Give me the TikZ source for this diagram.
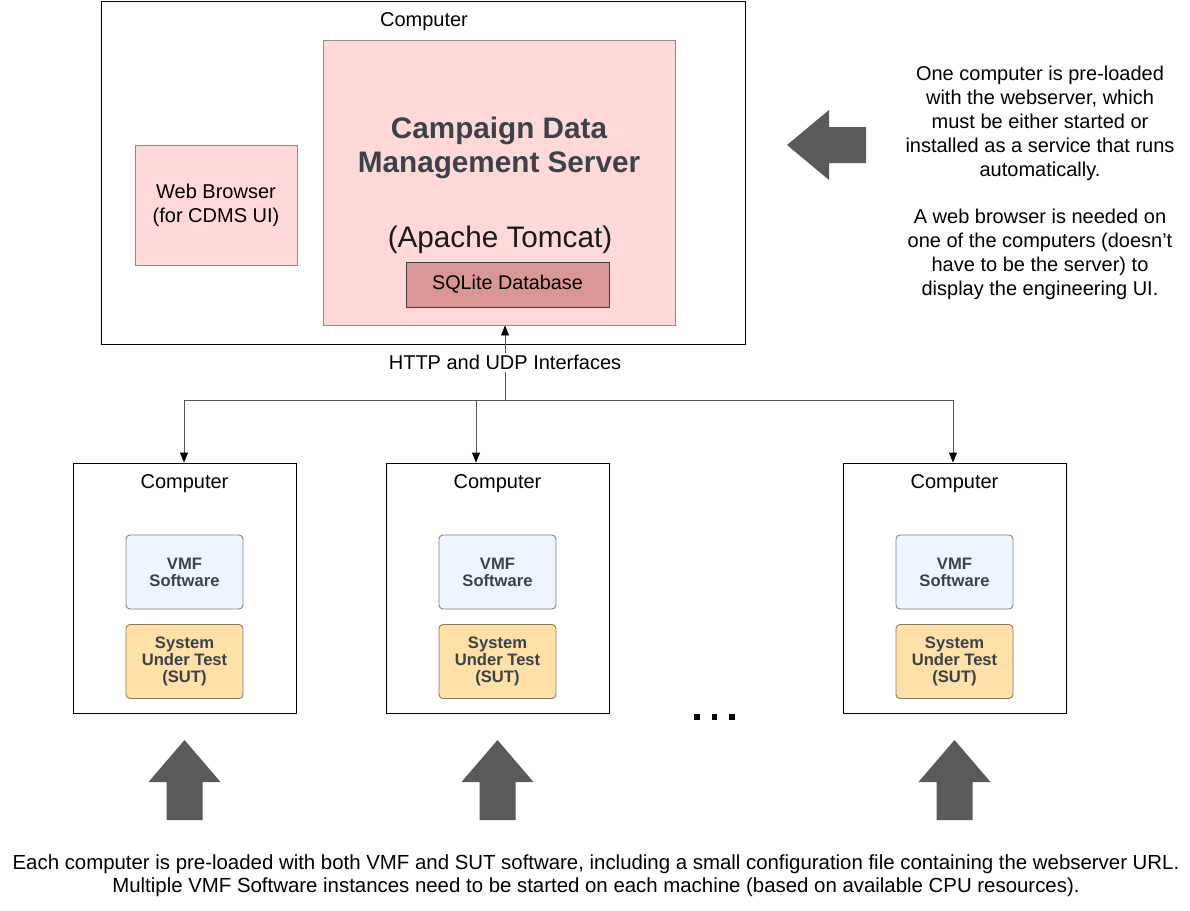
\documentclass[tikz,border=0pt]{standalone}
\usepackage{fontspec}
\setmainfont{Liberation Sans}
\usetikzlibrary{arrows.meta}
\definecolor{cdmsfill}{HTML}{FFD9D9}
\definecolor{cdmsline}{HTML}{8C8C8C}
\definecolor{sqlfill}{HTML}{D99694}
\definecolor{vmffill}{HTML}{EEF5FF}
\definecolor{vmfline}{HTML}{7A8591}
\definecolor{sutfill}{HTML}{FFE0A6}
\definecolor{sutline}{HTML}{8A7C62}
\definecolor{titletext}{HTML}{3B4249}
\definecolor{bigarrow}{HTML}{5A5A5A}
\definecolor{wire}{HTML}{555555}
\tikzset{
  box/.style={draw=black, line width=0.9pt, fill=white, inner sep=0pt},
  inner/.style={draw=cdmsline, line width=0.9pt, inner sep=0pt},
  soft/.style={rounded corners=4pt, line width=0.9pt, inner sep=0pt, minimum width=117pt, minimum height=74pt, align=center, text=titletext, font=\bfseries\fontsize{16.6}{17}\selectfont},
  vmfbox/.style={soft, draw=vmfline, fill=vmffill},
  sutbox/.style={soft, draw=sutline, fill=sutfill},
  lbl/.style={inner sep=0pt, font=\fontsize{20}{24}\selectfont, align=center},
  conn/.style={draw=wire, line width=0.9pt, -{Triangle[length=10pt,width=8pt,fill=black,color=black]}},
  bigarr/.style={fill=bigarrow, draw=none},
}
\begin{document}
\begin{tikzpicture}[x=1pt,y=-1pt]
\useasboundingbox (0,0) rectangle (1190,910);
% top computer
\node[box, minimum width=644pt, minimum height=343pt] (top) at (423,172.5) {};
\node[lbl] (toplbl) at (424,21.5) {Computer};
\node[inner, fill=cdmsfill, minimum width=352pt, minimum height=285pt] (cdms) at (499,182.5) {};
\node[inner sep=0pt, align=center, text=titletext, font=\bfseries\fontsize{29.7}{34}\selectfont] (cdmstitle) at (499,148) {Campaign Data\\Management Server};
\node[inner sep=0pt, font=\fontsize{29.7}{34}\selectfont, text=black!90] (tomcat) at (500,240) {(Apache Tomcat)};
\node[draw=black!75, line width=0.9pt, fill=sqlfill, inner sep=0pt, minimum width=203pt, minimum height=45pt, font=\fontsize{19.8}{22}\selectfont] (sql) at (507.5,284.5) {\raisebox{-1pt}{SQLite Database}};
\node[inner, fill=cdmsfill, minimum width=162pt, minimum height=120pt, align=center, font=\fontsize{20}{24}\selectfont] (web) at (216,205) {Web Browser\\(for CDMS UI)};
% right text
\node[lbl] (note1) at (1040,123.5) {One computer is pre-loaded\\with the webserver, which\\must be either started or\\installed as a service that runs\\automatically.};
\node[lbl] (note2) at (1040,254.5) {A web browser is needed on\\one of the computers (doesn’t\\have to be the server) to\\display the engineering UI.};
\fill[bigarr] (787,145) -- (829,110) -- (829,127) -- (866,127) -- (866,163) -- (829,163) -- (829,180) -- cycle;
% bottom computers
\foreach \n/\cx/\ax in {a/184.5/184, b/497.5/476, c/954.5/953}{
  \node[box, minimum width=223pt, minimum height=250pt] (pc\n) at (\cx,588) {};
  \node[lbl] (pc\n lbl) at (\cx,483.5) {Computer};
  \node[vmfbox] (vmf\n) at (\cx,572) {VMF\\Software};
  \node[sutbox] (sut\n) at (\cx,661.5) {System\\Under Test\\(SUT)};
  \coordinate (tap\n) at (\ax,400);
  \fill[bigarr] (\cx,740) -- (\cx+36,782) -- (\cx+18,782) -- (\cx+18,820) -- (\cx-18,820) -- (\cx-18,782) -- (\cx-36,782) -- cycle;
}
% bus
\coordinate (hub) at (505,400);
\draw[draw=wire, line width=0.9pt] (tapa) -- (tapc);
\draw[conn] (hub) -- (cdms.south -| hub);
\node[lbl, fill=white, inner sep=2pt, font=\fontsize{20}{22}\selectfont] (iface) at (505,362.5) {HTTP and UDP Interfaces};
\draw[conn] (tapa) -- (pca.north -| tapa);
\draw[conn] (tapb) -- (pcb.north -| tapb);
\draw[conn] (tapc) -- (pcc.north -| tapc);
% dots
\foreach \dx [count=\i] in {697,714.5,732}{
  \fill (\dx-2.7,714.3) rectangle (\dx+2.7,719.7);
}
\node[lbl, font=\fontsize{20.4}{23}\selectfont] (bottomnote) at (596,876) {Each computer is pre-loaded with both VMF and SUT software, including a small configuration file containing the webserver URL.\\Multiple VMF Software instances need to be started on each machine (based on available CPU resources).};
\end{tikzpicture}
\end{document}
